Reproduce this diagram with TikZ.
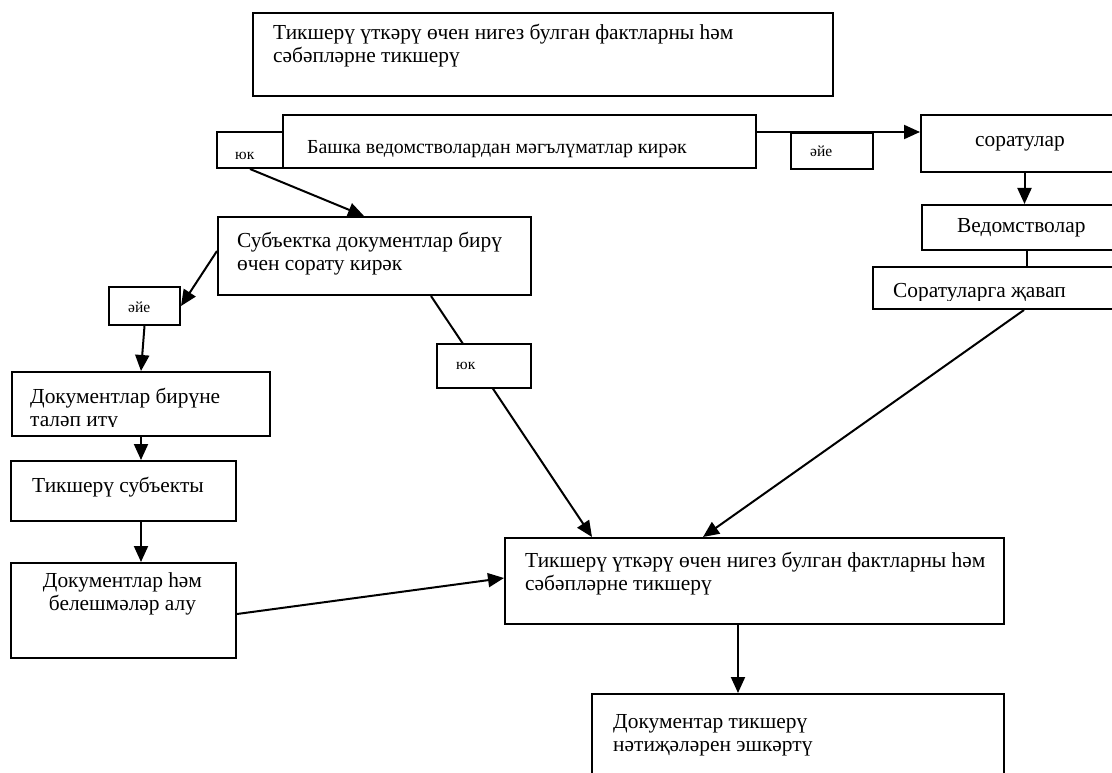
\documentclass[tikz,border=0pt]{standalone}
\usepackage{fontspec}
\setmainfont{Liberation Serif}
\usetikzlibrary{arrows.meta}
\begin{document}
\begin{tikzpicture}[x=1pt,y=-1pt,
  box/.style={draw, line width=2pt, fill=white, inner sep=0pt, anchor=north west},
  conn/.style={line width=2pt},
  arr/.style={conn, -{Triangle[length=16pt,width=14pt]}},
  txt/.style={inner sep=0pt, font=\fontsize{21.4}{23}\selectfont, align=left, anchor=base west},
  small/.style={inner sep=0pt, font=\fontsize{15.5}{17}\selectfont, anchor=base west}]
\path[use as bounding box] (0,0) rectangle (1112,773);
\clip (0,0) rectangle (1112,773);

% boxes
\node[box, minimum width=580pt, minimum height=83pt] (top) at (252,12) {};
\node[box, minimum width=473pt, minimum height=53pt] (bashka) at (282,114) {};
\node[box, minimum width=66pt, minimum height=36pt] (yuk1) at (216,131) {};
\node[box, minimum width=82pt, minimum height=36pt] (aye1) at (790,132) {};
\node[box, minimum width=200pt, minimum height=57pt] (sor) at (920,114) {};
\node[box, minimum width=199pt, minimum height=45pt] (ved) at (921,204) {};
\node[box, minimum width=253pt, minimum height=42pt] (javap) at (872,266) {};
\node[box, minimum width=313pt, minimum height=78pt] (subj) at (217,216) {};
\node[box, minimum width=71pt, minimum height=38pt] (aye2) at (108,286) {};
\node[box, minimum width=258pt, minimum height=64pt] (dokbir) at (11,371) {};
\node[box, minimum width=225pt, minimum height=60pt] (tiksub) at (10,460) {};
\node[box, minimum width=225pt, minimum height=95pt] (dokhem) at (10,562) {};
\node[box, minimum width=499pt, minimum height=86pt] (main) at (504,537) {};
\node[box, minimum width=412pt, minimum height=97pt] (bottom) at (591,693) {};

% connectors
\draw[arr] (bashka.east |- aye1.north) -- (sor.west |- aye1.north);
\draw[arr] ([xshift=3.5pt]sor.south) -- ([xshift=3.5pt]sor.south |- ved.north);
\draw[conn] ([xshift=5.5pt]ved.south) -- ([xshift=5.5pt]ved.south |- javap.north);
\draw[arr] ([xshift=24.5pt]javap.south) -- ([xshift=-51.5pt]main.north);
\draw[arr] (yuk1.south) -- ([xshift=-10.5pt]subj.north);
\draw[arr] ([yshift=5pt]subj.west) -- (aye2.east);
\draw[arr] (aye2.south) -- (dokbir.north);
\draw[arr] (dokbir.south) -- (dokbir.south |- tiksub.north);
\draw[arr] (dokbir.south |- tiksub.south) -- (dokbir.south |- dokhem.north);
\draw[arr] ([yshift=-3.5pt]dokhem.east) -- ([yshift=3pt]main.west);
\draw[arr] ([xshift=56.5pt]subj.south) -- ([xshift=-162.5pt]main.north);
\draw[arr] ([xshift=-16.5pt]main.south) -- ([xshift=-16.5pt]main.south |- bottom.north);

\node[box, minimum width=94pt, minimum height=44pt] (yuk2) at (436,343) {};

% texts
\node[txt] (t-top) at (273,63) {Тикшерү үткәрү өчен нигез булган фактларны һәм\\сәбәпләрне тикшерү};
\node[txt, font=\fontsize{19.9}{23}\selectfont] (t-bashka) at (307,154) {Башка ведомстволардан мәгълүматлар кирәк};
\node[small] (t-yuk1) at (235,160) {юк};
\node[small] (t-aye1) at (810,157) {әйе};
\node[txt] (t-sor) at (975,147) {соратулар};
\node[txt] (t-ved) at (957,233) {Ведомстволар};
\begin{scope}
\clip (javap.north west) rectangle ([yshift=10pt]javap.south east);
\node[txt] (t-javap) at (893,297) {Соратуларга җавап};
\end{scope}
\node[txt] (t-subj) at (237,270) {Субъектка документлар бирү\\өчен сорату кирәк};
\node[small] (t-aye2) at (128,312) {әйе};
\begin{scope}
\clip (dokbir.north west) rectangle ([yshift=11pt]dokbir.south east);
\node[txt] (t-dokbir) at (30,426) {Документлар бирүне\\таләп итү};
\end{scope}
\node[txt] (t-tiksub) at (32,492) {Тикшерү субъекты};
\node[txt, align=center, anchor=base] (t-dokhem) at (122.5,610) {Документлар һәм\\белешмәләр алу};
\node[small] (t-yuk2) at (456,369) {юк};
\node[txt] (t-main) at (525,590) {Тикшерү үткәрү өчен нигез булган фактларны һәм\\сәбәпләрне тикшерү};
\node[txt] (t-bottom) at (613,751) {Документар тикшерү\\нәтиҗәләрен эшкәртү};
\end{tikzpicture}
\end{document}
